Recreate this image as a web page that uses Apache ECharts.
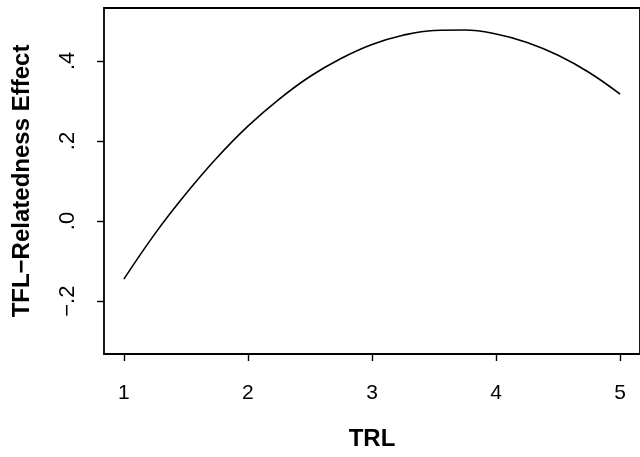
<!DOCTYPE html>
<html>
<head>
<meta charset="utf-8">
<script src="https://cdn.jsdelivr.net/npm/echarts@6/dist/echarts.min.js"></script>
<style>html,body{margin:0;padding:0;background:#fff}#c{width:640px;height:457px}</style>
</head>
<body>
<div id="c"></div>
<script>
const trl = [1.0, 1.25, 1.5, 1.75, 2.0, 2.25, 2.5, 2.75, 3.0, 3.25, 3.5, 3.75, 4.0, 4.25, 4.5, 4.75, 5.0];
const effect = [-0.145, -0.032, 0.068, 0.158, 0.237, 0.304, 0.361, 0.406, 0.441, 0.464, 0.476, 0.477, 0.467, 0.446, 0.414, 0.371, 0.317];
const xTicks = [1, 2, 3, 4, 5];
const yTicks = [-0.2, 0.0, 0.2, 0.4];
const yTickLabels = ['\u2212.2', '.0', '.2', '.4'];
const xTitle = 'TRL';
const yTitle = 'TFL\u2212Relatedness Effect';

const chart = echarts.init(document.getElementById('c'), null, {renderer: 'canvas'});
const font = 'Liberation Sans, Arial, Helvetica, sans-serif';
chart.setOption({
  animation: false,
  backgroundColor: '#fff',
  grid: {left: 104, right: -3, top: 8, bottom: 103, show: true, borderColor: '#000', borderWidth: 1.8, backgroundColor: 'transparent'},
  xAxis: {
    type: 'value', min: 0.84, max: 5.16,
    axisLine: {show: false, onZero: false},
    splitLine: {show: false},
    axisTick: {show: true, inside: false, length: 7, lineStyle: {color: '#000', width: 1.4}, customValues: xTicks},
    axisLabel: {customValues: xTicks, color: '#000', fontSize: 21, fontFamily: font, margin: 29, formatter: v => String(v)},
    name: xTitle, nameLocation: 'middle', nameGap: 73,
    nameTextStyle: {color: '#000', fontSize: 24, fontWeight: 'bold', fontFamily: font}
  },
  yAxis: {
    type: 'value', min: -0.332, max: 0.532,
    axisLine: {show: false, onZero: false},
    splitLine: {show: false},
    axisTick: {show: true, inside: false, length: 7, lineStyle: {color: '#000', width: 1.4}, customValues: yTicks},
    axisLabel: {customValues: yTicks, color: '#000', fontSize: 22, fontFamily: font, margin: 25, rotate: 90,
      formatter: v => { const i = yTicks.findIndex(t => Math.abs(t - v) < 1e-6); return i >= 0 ? yTickLabels[i] : ''; }},
    name: yTitle, nameLocation: 'middle', nameGap: 70, nameRotate: 90,
    nameTextStyle: {color: '#000', fontSize: 24, fontWeight: 'bold', fontFamily: font}
  },
  series: [{
    type: 'line', smooth: 0.4, showSymbol: false,
    data: trl.map((x, i) => [x, effect[i]]),
    lineStyle: {color: '#000', width: 1.6}
  }]
});
</script>
</body>
</html>
